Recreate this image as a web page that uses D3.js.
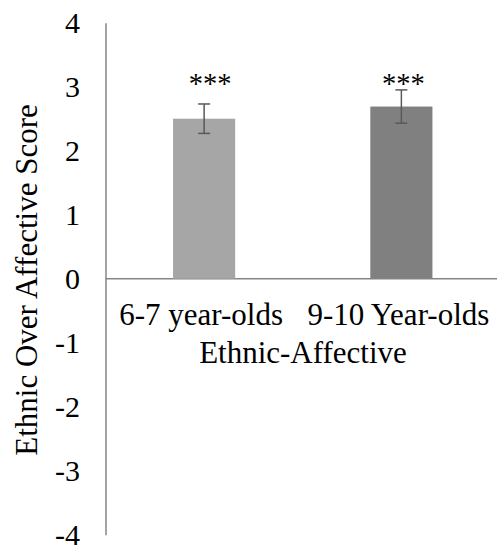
<!DOCTYPE html>
<html>
<head>
<meta charset="utf-8">
<script src="https://cdn.jsdelivr.net/npm/d3@7"></script>
</head>
<body style="margin:0">
<svg id="chart" width="497" height="546"></svg>
<script>
const categories = ["6-7 year-olds", "9-10 Year-olds"];
const values = [2.50, 2.69];
const errors = [0.23, 0.26];
const sigLabels = ["***", "***"];
const yTicks = [4, 3, 2, 1, 0, -1, -2, -3, -4];
const colors = ["#a6a6a6", "#808080"];
const yTitle = "Ethnic Over Affective Score";
const xTitle = "Ethnic-Affective";

const FONT = "'Liberation Serif'";
const svg = d3.select("#chart");
const mLeft = 105.5, mRight = 500, mTop = 22.7, mBottom = 534.7;
const y = d3.scaleLinear().domain([-4, 4]).range([mBottom, mTop]);
const x = d3.scaleBand().domain(categories).range([mLeft, mRight]).paddingInner(0.685).paddingOuter(0.3425);
const cxOf = d => x(d) + x.bandwidth() / 2;

// zero line
svg.append("line").attr("x1", mLeft).attr("x2", 497).attr("y1", y(0)).attr("y2", y(0))
  .attr("stroke", "#868686").attr("stroke-width", 1.5);

// bars
svg.selectAll("rect.bar").data(categories).join("rect")
  .attr("class", "bar")
  .attr("x", d => x(d)).attr("width", x.bandwidth())
  .attr("y", (d, i) => y(values[i])).attr("height", (d, i) => y(0) - y(values[i]))
  .attr("fill", (d, i) => colors[i]);

// y axis line
const yAxis = d3.axisLeft(y).tickValues(yTicks).tickSize(0).tickFormat("");
const ga = svg.append("g").attr("transform", `translate(${mLeft},0)`).call(yAxis);
ga.select(".domain").attr("stroke", "#868686").attr("stroke-width", 1.5);

// y tick labels
svg.selectAll("text.ytick").data(yTicks).join("text").attr("class", "ytick")
  .attr("x", 80).attr("y", d => y(d)).attr("dy", "0.34em").attr("text-anchor", "end")
  .style("font-family", FONT).style("font-size", "30px")
  .text(d => String(d));

// error bars
const eb = svg.append("g");
categories.forEach((c, i) => {
  const cx = cxOf(c);
  const hi = y(values[i] + errors[i]), lo = y(values[i] - errors[i]);
  eb.append("line").attr("x1", cx).attr("x2", cx).attr("y1", hi).attr("y2", lo)
    .attr("stroke", "#595959").attr("stroke-width", 1.5);
  [hi, lo].forEach(v => eb.append("line").attr("x1", cx - 6).attr("x2", cx + 6).attr("y1", v).attr("y2", v)
    .attr("stroke", "#595959").attr("stroke-width", 1.5));
});

// significance labels
svg.selectAll("text.sig").data(categories).join("text").attr("class", "sig")
  .attr("x", (d, i) => cxOf(d) + (i === 0 ? 6 : 2))
  .attr("y", y(3) + 6)
  .attr("text-anchor", "middle")
  .style("font-family", FONT).style("font-size", "28.5px")
  .text((d, i) => sigLabels[i]);

// category labels
svg.selectAll("text.cat").data(categories).join("text").attr("class", "cat")
  .attr("x", d => cxOf(d) - 3).attr("y", 325).attr("text-anchor", "middle")
  .style("font-family", FONT).style("font-size", "31px").text(d => d);

svg.selectAll("text.xtitle").data([xTitle]).join("text").attr("class", "xtitle")
  .attr("x", 303).attr("y", 363).attr("text-anchor", "middle")
  .style("font-family", FONT).style("font-size", "31px").text(d => d);

svg.selectAll("text.ytitle").data([yTitle]).join("text").attr("class", "ytitle")
  .attr("transform", "translate(37,280) rotate(-90)")
  .attr("text-anchor", "middle").style("font-family", FONT).style("font-size", "31px").text(d => d);
</script>
</body>
</html>
